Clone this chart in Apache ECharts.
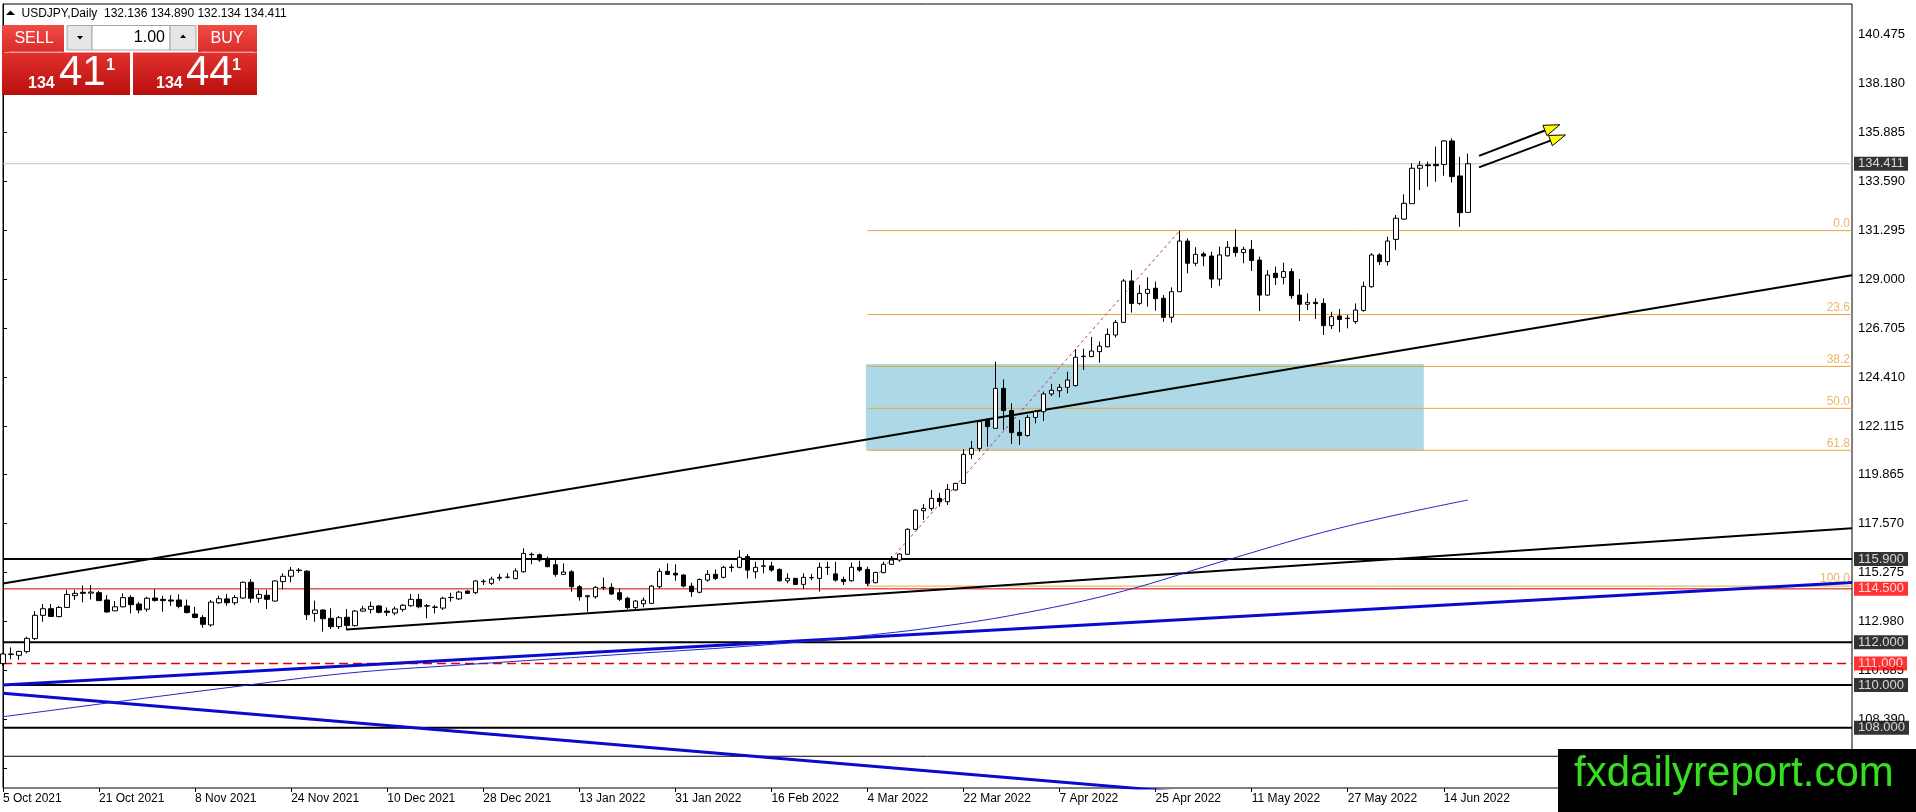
<!DOCTYPE html>
<html><head><meta charset="utf-8">
<script src="https://cdn.jsdelivr.net/npm/echarts@6/dist/echarts.min.js"></script>
<style>html,body{margin:0;padding:0;background:#fff;}#c{width:1916px;height:812px;}</style>
</head><body><div id="c"></div>
<script>
// ---------------- DATA ----------------
const tickLabels = ["5 Oct 2021","21 Oct 2021","8 Nov 2021","24 Nov 2021","10 Dec 2021","28 Dec 2021","13 Jan 2022","31 Jan 2022","16 Feb 2022","4 Mar 2022","22 Mar 2022","7 Apr 2022","25 Apr 2022","11 May 2022","27 May 2022","14 Jun 2022"];
const yTicks = [140.475,138.180,135.885,133.590,131.295,129.000,126.705,124.410,122.115,119.865,117.570,115.275,112.980,110.685,108.390,106.095];
// daily bars: [open, close, low, high]
const ohlc = [
[111.00,111.45,110.90,111.50],[111.43,111.45,111.20,111.76],[111.39,111.57,111.17,111.60],[111.56,112.18,111.48,112.26],[112.17,113.26,112.10,113.46],
[113.26,113.57,112.96,113.79],[113.57,113.21,113.20,113.79],[113.20,113.63,113.17,113.70],[113.63,114.24,113.60,114.45],[114.18,114.29,113.98,114.45],
[114.34,114.29,113.87,114.66],[114.30,114.35,114.00,114.68],[114.32,113.95,113.93,114.40],[113.98,113.42,113.38,114.21],[113.47,113.66,113.46,113.93],
[113.66,114.09,113.63,114.29],[114.10,113.76,113.35,114.20],[113.79,113.51,113.35,113.90],[113.55,114.06,113.43,114.13],[114.07,113.96,113.90,114.48],
[114.01,113.95,113.43,114.17],[113.98,113.93,113.70,114.21],[113.98,113.68,113.59,114.24],[113.70,113.39,113.35,114.00],[113.32,113.16,113.12,113.66],
[113.16,112.84,112.68,113.27],[112.81,113.88,112.73,113.98],[113.85,114.04,113.79,114.18],[114.03,113.85,113.71,114.26],[113.85,114.09,113.74,114.21],
[114.07,114.81,114.04,114.84],[114.81,114.06,113.85,114.96],[114.06,114.24,113.85,114.45],[114.20,114.01,113.56,114.45],[113.93,114.87,113.91,114.91],
[114.84,115.09,114.48,115.23],[115.09,115.37,114.81,115.52],[115.36,115.38,115.26,115.48],[115.33,113.29,113.04,115.37],[113.35,113.51,112.96,113.95],
[113.51,113.10,112.50,113.54],[113.12,112.73,112.62,113.59],[112.73,113.15,112.62,113.23],[113.17,112.78,112.57,113.56],[112.78,113.46,112.73,113.51],
[113.46,113.56,113.43,113.70],[113.54,113.68,113.35,113.90],[113.70,113.40,113.35,113.74],[113.46,113.40,113.23,113.63],[113.37,113.56,113.27,113.67],
[113.54,113.73,113.43,113.79],[113.71,114.01,113.66,114.26],[114.01,113.66,113.59,114.26],[113.69,113.71,113.12,113.79],[113.63,113.65,113.35,113.74],
[113.60,114.06,113.51,114.13],[114.09,114.10,113.90,114.32],[114.03,114.35,113.98,114.41],[114.40,114.29,114.27,114.43],[114.32,114.87,114.26,114.91],
[114.84,114.86,114.68,114.95],[114.76,114.96,114.68,115.07],[115.00,115.04,114.88,115.20],[115.04,115.05,114.99,115.23],[114.98,115.34,114.95,115.46],
[115.30,116.16,115.26,116.40],[116.12,116.10,115.65,116.20],[116.10,115.85,115.77,116.16],[115.88,115.54,115.51,116.01],[115.63,115.18,115.07,115.85],
[115.18,115.29,115.15,115.69],[115.30,114.60,114.37,115.38],[114.60,114.13,113.95,114.68],[114.13,114.18,113.43,114.22],[114.13,114.57,114.05,114.63],
[114.57,114.56,114.45,115.03],[114.57,114.26,114.21,114.76],[114.32,114.01,113.93,114.52],[114.06,113.62,113.56,114.13],[113.62,113.93,113.51,113.98],
[113.80,113.97,113.64,114.10],[113.82,114.63,113.79,114.68],[114.60,115.32,114.52,115.46],[115.32,115.18,115.15,115.69],[115.23,115.15,114.88,115.65],
[115.15,114.63,114.57,115.18],[114.63,114.37,114.13,114.79],[114.34,114.94,114.29,114.99],[114.91,115.18,114.84,115.38],[115.18,114.99,114.91,115.41],
[115.04,115.51,114.99,115.57],[115.50,115.52,115.30,115.66],[115.51,115.98,115.46,116.32],[116.01,115.38,114.99,116.13],[115.30,115.51,114.99,115.77],
[115.56,115.58,115.23,115.85],[115.57,115.38,115.30,115.77],[115.41,114.88,114.84,115.46],[114.88,114.99,114.76,115.23],[114.99,114.71,114.68,115.02],
[114.71,115.04,114.48,115.23],[115.02,115.03,114.91,115.20],[114.99,115.51,114.37,115.73],[115.51,115.50,115.15,115.77],[115.20,114.91,114.84,115.77],
[114.94,114.84,114.68,115.07],[114.88,115.51,114.84,115.73],[115.51,115.38,115.30,115.82],[115.41,114.76,114.63,115.54],[114.79,115.27,114.76,115.30],
[115.26,115.65,115.23,115.77],[115.65,115.85,115.62,116.04],[115.85,116.13,115.77,116.16],[116.12,117.29,116.09,117.34],[117.29,118.19,117.26,118.22],
[118.16,118.27,117.73,118.47],[118.27,118.74,118.16,119.13],[118.74,118.58,118.35,119.00],[118.58,119.16,118.43,119.41],[119.13,119.44,119.10,119.47],
[119.44,120.80,119.41,121.04],[120.80,121.08,120.58,121.43],[121.08,122.33,120.93,122.41],[122.41,122.10,121.16,122.49],[122.02,123.89,122.02,125.14],
[123.89,122.85,121.94,124.31],[122.85,121.82,121.29,123.19],[121.83,121.68,121.24,122.41],[121.68,122.53,121.63,122.64],[122.53,122.80,122.25,122.88],
[122.80,123.63,122.36,123.74],[123.63,123.80,123.53,124.10],[123.78,123.94,123.47,124.10],[123.94,124.28,123.66,124.67],[124.02,125.35,123.97,125.72],
[125.38,125.40,124.75,125.75],[125.38,125.64,125.35,126.30],[125.61,125.87,125.10,126.08],[125.84,126.42,125.81,126.70],[126.39,126.98,126.27,127.09],
[126.98,128.92,126.98,129.01],[128.92,127.87,127.44,129.43],[127.87,128.34,127.80,128.73],[128.34,128.53,127.72,129.09],[128.58,128.09,127.53,128.89],
[128.11,127.22,127.01,128.26],[127.22,128.42,126.97,128.62],[128.42,130.79,128.42,131.28],[130.79,129.75,129.28,130.92],[129.75,130.17,129.62,130.50],
[130.19,130.09,129.62,130.29],[130.09,129.01,128.60,130.29],[129.01,130.14,128.69,130.53],[130.10,130.50,130.06,130.79],[130.50,130.25,130.06,131.34],
[130.25,130.40,129.75,130.53],[130.40,129.88,129.39,130.84],[129.90,128.26,127.51,130.06],[128.26,129.20,128.23,129.43],[129.28,129.08,128.73,129.59],
[129.09,129.36,128.76,129.78],[129.36,128.23,128.08,129.51],[128.26,127.83,127.05,129.01],[127.83,127.92,127.56,128.34],[127.92,127.86,127.14,128.11],
[127.87,126.83,126.39,128.11],[126.83,127.25,126.67,127.48],[127.28,127.12,126.52,127.61],[127.16,127.18,126.70,127.33],[127.02,127.56,126.91,127.87],
[127.54,128.67,127.48,128.89],[128.65,130.14,128.61,130.22],[130.14,129.83,129.67,130.22],[129.83,130.79,129.64,131.00],[130.87,131.86,130.37,132.01],
[131.82,132.56,131.78,132.98],[132.54,134.20,132.54,134.43],[134.20,134.34,133.18,134.54],[134.36,134.32,133.34,134.51],[134.38,134.32,133.57,135.21],
[134.38,135.48,133.85,135.52],[135.48,133.81,133.54,135.60],[133.84,132.12,131.46,134.74],[132.136,134.411,132.134,134.890]
];
// moving average read at sample bars: [bar, value]
const maPoints = [[0,108.51],[14,109.20],[28,109.87],[43,110.55],[57,110.93],[76,111.40],[95,111.87],[106,112.25],[117,112.73],[128,113.40],[140,114.40],[152,115.75],[167,117.35],[183,118.66]];
const currentPrice = 134.411;
const blackLevels = [115.900, 112.000, 110.000, 108.000];
const redLevel = 114.500;
const dashedRedLevel = 111.000;
const thinBlackLevel = 106.66;
const fibLow = 114.63, fibHigh = 131.28, fibStartBar = 108, fibHighBar = 147;
const fibLevels = [0.0, 23.6, 38.2, 50.0, 61.8, 100.0];
// trend lines: [bar1, price1, bar2, price2]
const blackTrends = [[0,114.75,231,129.19],[42.9,112.60,231,117.335]];
const blueTrends = [[0,110.00,231,114.80],[0,109.61,150,104.89]];
const zoneBox = [107.8,125.03,177.5,120.99];
const arrowsData = [[184.4,134.78,194.5,136.24],[184.4,134.24,195.2,135.76]];
const header = "USDJPY,Daily  132.136 134.890 132.134 134.411";
const lotSize = "1.00";
const sellQuote = ["134","41","1"], buyQuote = ["134","44","1"];
const watermark = "fxdailyreport.com";

// ---------------- CHART ----------------
const FONT = "'Liberation Sans', Arial, sans-serif";
const N = 232;
const cats = Array.from({length: N}, (_, i) => String(i));
const chart = echarts.init(document.getElementById('c'));
const showTick = (i) => i % 12 === 0 && i / 12 < tickLabels.length;

function hLine(v, color, width, type, z) {
  return {type:'line', xAxisIndex:1, data:[[0,v],[N-1,v]], symbol:'none', silent:true, animation:false,
    lineStyle:{color, width, type}, z: z || 4};
}
function seg(s, color, width, type) {
  return {type:'line', xAxisIndex:1, data:[[s[0],s[1]],[s[2],s[3]]], symbol:'none', silent:true, animation:false,
    lineStyle:{color, width, type}, z:4};
}
const fibPrice = l => fibHigh - (fibHigh - fibLow) * l / 100;

const series = [];
// zone rectangle (background)
series.push({type:'custom', xAxisIndex:1, z:1, silent:true, animation:false, clip:true,
  data:[zoneBox], encode:{x:[0,2], y:[1,3]},
  renderItem:(p, api) => {
    const a = api.coord([api.value(0), api.value(1)]);
    const b = api.coord([api.value(2), api.value(3)]);
    return {type:'rect', shape:{x:a[0], y:a[1], width:b[0]-a[0], height:b[1]-a[1]}, style:{fill:'#add8e6'}};
  }});
// fib levels
fibLevels.forEach(l => series.push({type:'line', xAxisIndex:1, data:[[fibStartBar, fibPrice(l)],[N-1, fibPrice(l)]], symbol:'none',
  silent:true, animation:false, lineStyle:{color:'#e9a43c', width:1}, z:3}));
series.push({type:'line', xAxisIndex:1, data:[[fibStartBar, fibLow],[fibHighBar, fibHigh]], symbol:'none', silent:true, animation:false,
  lineStyle:{color:'#d0305a', width:1, type:[3,3]}, z:3});
// candles
series.push({type:'candlestick', xAxisIndex:0, data:ohlc, barWidth:5, z:5, animation:false, silent:true,
  itemStyle:{color:'#ffffff', color0:'#000000', borderColor:'#000000', borderColor0:'#000000', borderWidth:1}});
// horizontal levels
series.push(hLine(currentPrice, '#c0c0c0', 1, 'solid', 3));
blackLevels.forEach(v => series.push(hLine(v, '#000', 2, 'solid')));
series.push(hLine(redLevel, '#d00000', 1, 'solid'));
series.push(hLine(dashedRedLevel, '#e00000', 1.5, [9,5]));
series.push(hLine(thinBlackLevel, '#000', 1, 'solid'));
// trend lines
blackTrends.forEach(s => series.push(seg(s, '#000', 2, 'solid')));
blueTrends.forEach(s => series.push(seg(s, '#0a0ad0', 3, 'solid')));
// moving average
series.push({type:'line', xAxisIndex:1, data:maPoints, symbol:'none', smooth:0.4, silent:true, animation:false,
  lineStyle:{color:'#2424c8', width:1}, z:4});
// arrows
series.push({type:'custom', xAxisIndex:1, z:6, silent:true, animation:false, clip:false,
  data:arrowsData, encode:{x:[0,2], y:[1,3]},
  renderItem:(p, api) => {
    const p1 = api.coord([api.value(0), api.value(1)]);
    const p2 = api.coord([api.value(2), api.value(3)]);
    const dx = p2[0]-p1[0], dy = p2[1]-p1[1], L = Math.hypot(dx, dy);
    const ux = dx/L, uy = dy/L, nx = -uy, ny = ux, hl = 16, hw = 5.5;
    const b = [p2[0]-ux*hl, p2[1]-uy*hl];
    return {type:'group', children:[
      {type:'line', shape:{x1:p1[0], y1:p1[1], x2:b[0], y2:b[1]}, style:{stroke:'#000', lineWidth:2}},
      {type:'polygon', shape:{points:[[p2[0],p2[1]],[b[0]+nx*hw,b[1]+ny*hw],[b[0]-nx*hw,b[1]-ny*hw]]}, style:{fill:'#ffff00', stroke:'#000', lineWidth:1}}
    ]};
  }});
// fib labels
series.push({type:'scatter', xAxisIndex:1, symbolSize:0, silent:true, animation:false, z:6, clip:false,
  data: fibLevels.map(l => [N-1, fibPrice(l), l.toFixed(1)]),
  label:{show:true, position:'left', distance:2, offset:[0,-7], formatter:p => p.value[2], color:'#e9a43c', fontSize:12, fontFamily:FONT}});
// price boxes
const boxes = [[currentPrice,'#000'], ...blackLevels.map(v => [v,'#000']), [redLevel,'#ff0000'], [dashedRedLevel,'#ff0000']];
series.push({type:'scatter', xAxisIndex:1, symbolSize:0, silent:true, animation:false, z:7, clip:false,
  data: boxes.map(b => ({value:[N-1, b[0]], label:{backgroundColor:b[1]}})),
  label:{show:true, position:'right', distance:2, formatter:p => p.value[1].toFixed(3), color:'#fff', fontSize:13, fontFamily:FONT,
    padding:[1,4,0,4], lineHeight:13}});

// graphic overlay: header, trading panel, watermark
const redTop = new echarts.graphic.LinearGradient(0,0,0,1,[{offset:0,color:'#f14b45'},{offset:1,color:'#d92c29'}]);
const redBot = new echarts.graphic.LinearGradient(0,0,0,1,[{offset:0,color:'#e2312e'},{offset:1,color:'#b80f0d'}]);
const txt = (text, x, y, size, fill, align, weight) => ({type:'text', z:100, style:{text, x, y, fill, font:(weight||'normal')+' '+size+'px '+FONT, align:align||'left', verticalAlign:'middle'}});
const graphic = [
  {type:'polygon', z:100, shape:{points:[[6,15],[15,15],[10.5,10.5]]}, style:{fill:'#000'}},
  txt(header, 21.5, 13.5, 12, '#000'),
  {type:'rect', z:100, shape:{x:2, y:25, width:62, height:27}, style:{fill:redTop}},
  {type:'rect', z:100, shape:{x:198, y:25, width:59, height:27}, style:{fill:redTop}},
  {type:'rect', z:100, shape:{x:2, y:52.5, width:128, height:42.5}, style:{fill:redBot}},
  {type:'rect', z:100, shape:{x:133, y:52.5, width:124, height:42.5}, style:{fill:redBot}},
  {type:'line', z:101, shape:{x1:9, y1:52, x2:63, y2:52}, style:{stroke:'#f59a98', lineWidth:1}},
  {type:'line', z:101, shape:{x1:201, y1:52, x2:254, y2:52}, style:{stroke:'#f59a98', lineWidth:1}},
  {type:'rect', z:100, shape:{x:67, y:25.5, width:25, height:24.5}, style:{fill:'#e6e6e6', stroke:'#a8a8a8', lineWidth:1}},
  {type:'rect', z:100, shape:{x:92, y:25.5, width:78, height:24.5}, style:{fill:'#ffffff', stroke:'#a8a8a8', lineWidth:1}},
  {type:'rect', z:100, shape:{x:170, y:25.5, width:26, height:24.5}, style:{fill:'#e6e6e6', stroke:'#a8a8a8', lineWidth:1}},
  {type:'polygon', z:101, shape:{points:[[77,36],[83,36],[80,39.5]]}, style:{fill:'#000'}},
  {type:'polygon', z:101, shape:{points:[[180,38],[186,38],[183,34.5]]}, style:{fill:'#000'}},
  txt(lotSize, 165, 38, 16, '#000', 'right'),
  txt('SELL', 34, 39, 16, '#fff', 'center'),
  txt('BUY', 227, 39, 16, '#fff', 'center'),
  txt(sellQuote[0], 28, 83.5, 16, '#fff', 'left', 'bold'),
  txt(sellQuote[1], 59, 73, 42, '#fff'),
  txt(sellQuote[2], 106, 66, 16, '#fff', 'left', 'bold'),
  txt(buyQuote[0], 156, 83.5, 16, '#fff', 'left', 'bold'),
  txt(buyQuote[1], 186, 73, 42, '#fff'),
  txt(buyQuote[2], 232, 66, 16, '#fff', 'left', 'bold'),
  {type:'rect', z:100, shape:{x:1558, y:749, width:358, height:63}, style:{fill:'#000'}},
  txt(watermark, 1574, 774, 42, '#36e021')
];

chart.setOption({
  animation:false,
  backgroundColor:'#ffffff',
  grid:{left:3, right:64, top:4, bottom:24, show:true, borderColor:'#000', borderWidth:1, backgroundColor:'transparent'},
  xAxis:[
    {type:'category', data:cats, boundaryGap:false, axisLine:{show:false},
      axisTick:{show:true, interval:(i) => showTick(i), length:4, lineStyle:{color:'#000'}},
      axisLabel:{interval:(i) => showTick(i), formatter:(v, i) => tickLabels[i/12] || '', align:'left', margin:5, color:'#000', fontSize:12, fontFamily:FONT},
      splitLine:{show:false}},
    {type:'value', min:0, max:N-1, show:false}
  ],
  yAxis:{type:'value', position:'right', min:105.173, max:141.894, scale:true,
    axisLine:{show:true, lineStyle:{color:'#000'}},
    axisTick:{show:true, customValues:yTicks, length:4, lineStyle:{color:'#000'}},
    axisLabel:{customValues:yTicks, formatter:v => Number(v).toFixed(3), margin:6, color:'#000', fontSize:13, fontFamily:FONT},
    splitLine:{show:false}},
  series,
  graphic
});
</script></body></html>
